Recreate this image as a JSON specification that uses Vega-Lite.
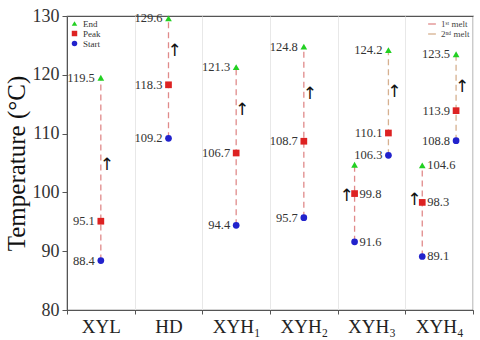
{
  "$schema": "https://vega.github.io/schema/vega-lite/v6.json",
  "width": 406,
  "height": 294,
  "autosize": {"type": "none"},
  "padding": {"left": 67, "top": 16, "right": 7, "bottom": 30},
  "config": {
    "font": "Liberation Serif",
    "view": {"stroke": "#555", "strokeWidth": 1.2}
  },
  "data": {
    "values": [
      {"cat": "XYL", "melt": "single", "line": "1st melt", "Start": 88.4, "Peak": 95.1, "End": 119.5, "arrow": 104.7},
      {"cat": "HD", "melt": "single", "line": "1st melt", "Start": 109.2, "Peak": 118.3, "End": 129.6, "arrow": 124.0},
      {"cat": "XYH₁", "melt": "single", "line": "1st melt", "Start": 94.4, "Peak": 106.7, "End": 121.3, "arrow": 114.0},
      {"cat": "XYH₂", "melt": "single", "line": "1st melt", "Start": 95.7, "Peak": 108.7, "End": 124.8, "arrow": 116.7},
      {"cat": "XYH₃", "melt": "1st", "line": "1st melt", "Start": 91.6, "Peak": 99.8, "End": 104.7, "arrow": 99.4},
      {"cat": "XYH₃", "melt": "2nd", "line": "2nd melt", "Start": 106.3, "Peak": 110.1, "End": 124.2, "arrow": 117.0},
      {"cat": "XYH₄", "melt": "1st", "line": "1st melt", "Start": 89.1, "Peak": 98.3, "End": 104.6, "arrow": 98.7},
      {"cat": "XYH₄", "melt": "2nd", "line": "2nd melt", "Start": 108.8, "Peak": 113.9, "End": 123.5, "arrow": 118.0}
    ]
  },
  "encoding": {
    "x": {
      "field": "cat",
      "type": "nominal",
      "sort": ["XYL", "HD", "XYH₁", "XYH₂", "XYH₃", "XYH₄"],
      "scale": {"paddingInner": 0, "paddingOuter": 0},
      "axis": {
        "title": null,
        "labelFontSize": 19,
        "labelColor": "#222",
        "labelAngle": 0,
        "labelPadding": 3,
        "tickBand": "extent",
        "grid": true,
        "gridColor": "#e8e8e8",
        "domainColor": "#555",
        "tickColor": "#555",
        "tickSize": 4
      }
    },
    "xOffset": {
      "field": "melt",
      "type": "nominal",
      "scale": {"type": "point", "domain": ["1st", "single", "2nd"], "padding": 1}
    }
  },
  "layer": [
    {
      "mark": {"type": "rule", "strokeDash": [6, 4], "strokeWidth": 1.3},
      "encoding": {
        "y": {
          "field": "Start",
          "type": "quantitative",
          "scale": {"domain": [80, 130], "nice": false, "zero": false},
          "title": "Temperature (°C)",
          "axis": {
            "values": [80, 90, 100, 110, 120, 130],
            "grid": false,
            "labelFontSize": 18,
            "labelColor": "#333",
            "labelPadding": 3,
            "titleFontSize": 25,
            "titleFontWeight": "normal",
            "titleColor": "#111",
            "titlePadding": 3,
            "tickSize": 5,
            "domainColor": "#555",
            "tickColor": "#555"
          }
        },
        "y2": {"field": "End"},
        "stroke": {
          "field": "line",
          "type": "nominal",
          "scale": {"domain": ["1st melt", "2nd melt"], "range": ["#e08a8a", "#d6b08f"]},
          "legend": {
            "orient": "top-right",
            "title": null,
            "offset": 3,
            "padding": 0,
            "symbolType": "stroke",
            "symbolStrokeWidth": 1.3,
            "symbolSize": 60,
            "labelFontSize": 9,
            "labelColor": "#444",
            "rowPadding": 0,
            "labelExpr": "datum.label == '1st melt' ? '1ˢᵗ melt' : '2ⁿᵈ melt'"
          }
        }
      }
    },
    {
      "transform": [{"fold": ["Start", "Peak", "End"], "as": ["kind", "temp"]}],
      "mark": {"type": "point", "filled": true, "opacity": 1, "size": 45},
      "encoding": {
        "y": {"field": "temp", "type": "quantitative", "title": "Temperature (°C)"},
        "shape": {
          "field": "kind",
          "type": "nominal",
          "scale": {"domain": ["End", "Peak", "Start"], "range": ["triangle-up", "square", "circle"]},
          "legend": {
            "orient": "top-left",
            "title": null,
            "offset": 3,
            "padding": 0,
            "symbolSize": 30,
            "labelFontSize": 9,
            "labelColor": "#333",
            "rowPadding": 0
          }
        },
        "color": {
          "field": "kind",
          "type": "nominal",
          "scale": {"domain": ["End", "Peak", "Start"], "range": ["#22d022", "#dd2222", "#2222cc"]},
          "legend": {
            "orient": "top-left",
            "title": null,
            "offset": 3,
            "padding": 0,
            "symbolSize": 30,
            "labelFontSize": 9,
            "labelColor": "#333",
            "rowPadding": 0
          }
        }
      }
    },
    {
      "transform": [
        {"fold": ["Start", "Peak", "End"], "as": ["kind", "temp"]},
        {"filter": "datum.melt != '1st'"}
      ],
      "mark": {"type": "text", "align": "right", "baseline": "middle", "dx": -6, "fontSize": 12.5, "color": "#333"},
      "encoding": {
        "y": {"field": "temp", "type": "quantitative", "title": "Temperature (°C)"},
        "text": {"field": "temp", "type": "quantitative", "format": ".1f"}
      }
    },
    {
      "transform": [
        {"fold": ["Start", "Peak", "End"], "as": ["kind", "temp"]},
        {"filter": "datum.melt == '1st' && !(datum.cat == 'XYH₃' && datum.kind == 'End')"}
      ],
      "mark": {"type": "text", "align": "left", "baseline": "middle", "dx": 5, "fontSize": 12.5, "color": "#333"},
      "encoding": {
        "y": {"field": "temp", "type": "quantitative", "title": "Temperature (°C)"},
        "text": {"field": "temp", "type": "quantitative", "format": ".1f"}
      }
    },
    {
      "transform": [{"filter": "datum.melt != '1st'"}],
      "mark": {"type": "text", "text": "↑", "font": "DejaVu Sans", "align": "center", "baseline": "middle", "dx": 6, "fontSize": 17, "color": "#111"},
      "encoding": {
        "y": {"field": "arrow", "type": "quantitative", "title": "Temperature (°C)"}
      }
    },
    {
      "transform": [{"filter": "datum.melt == '1st'"}],
      "mark": {"type": "text", "text": "↑", "font": "DejaVu Sans", "align": "center", "baseline": "middle", "dx": -8, "fontSize": 17, "color": "#111"},
      "encoding": {
        "y": {"field": "arrow", "type": "quantitative", "title": "Temperature (°C)"}
      }
    }
  ]
}
